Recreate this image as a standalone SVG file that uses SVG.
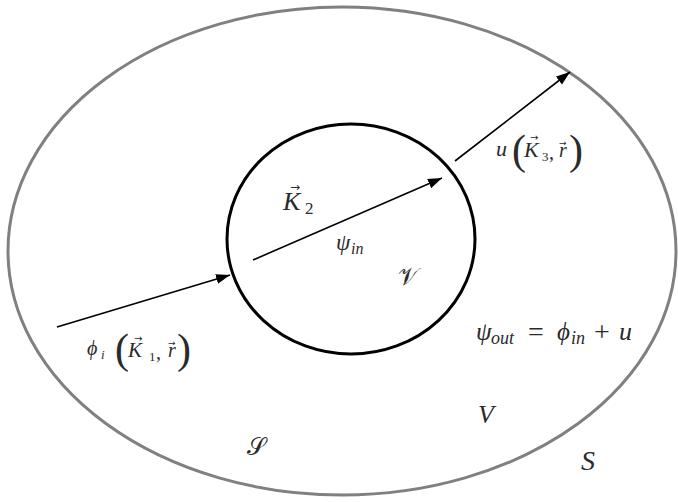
<svg xmlns="http://www.w3.org/2000/svg" width="678" height="502" viewBox="0 0 678 502">
<defs>
<marker id="ah" markerUnits="userSpaceOnUse" markerWidth="16" markerHeight="12" refX="14" refY="5" orient="auto">
<path d="M0,0 L14,5 L0,10 z" fill="#000"/>
</marker>
<style>
text{font-family:"Liberation Serif","DejaVu Serif",serif;fill:#2a2a2a}
.i{font-style:italic}
.p{font-style:normal}
.v{font-style:normal;font-family:"DejaVu Sans",sans-serif}
.c{stroke:#000;stroke-width:1.6;fill:none;marker-end:url(#ah)}
</style>
</defs>
<g id="outer-region">
<ellipse cx="342" cy="251" rx="334" ry="244" fill="none" stroke="#808080" stroke-width="3"/>
</g>
<g id="scatterer">
<ellipse cx="351" cy="239" rx="124" ry="115" fill="none" stroke="#000" stroke-width="3"/>
</g>
<g id="connectors">
<line class="c" x1="57" y1="327" x2="230" y2="275"/>
<line class="c" x1="253" y1="260" x2="442" y2="178"/>
<line class="c" x1="455" y1="161" x2="570" y2="72"/>
</g>
<g id="label-incident">
<text class="i" x="87" y="355" font-size="20">ϕ</text>
<text class="i" x="101" y="359" font-size="13">i</text>
<text class="p" x="115" y="363" font-size="42">(</text>
<text class="i" x="128" y="357" font-size="21">K</text>
<text class="v" x="134" y="342" font-size="10">→</text>
<text class="p" x="149" y="361" font-size="13">1</text>
<text class="p" x="156" y="359" font-size="20">,</text>
<text class="i" x="168" y="357" font-size="20">r</text>
<text class="v" x="168" y="346" font-size="9">→</text>
<text class="p" x="177" y="363" font-size="42">)</text>
</g>
<g id="label-scattered">
<text class="i" x="496" y="156" font-size="22">u</text>
<text class="p" x="512" y="164" font-size="42">(</text>
<text class="i" x="524" y="157" font-size="22">K</text>
<text class="v" x="530" y="141" font-size="10">→</text>
<text class="p" x="542" y="161" font-size="13">3</text>
<text class="p" x="549" y="159" font-size="20">,</text>
<text class="i" x="559" y="157" font-size="20">r</text>
<text class="v" x="559" y="146" font-size="9">→</text>
<text class="p" x="569" y="164" font-size="42">)</text>
</g>
<g id="label-k2">
<text class="i" x="283" y="210" font-size="26">K</text>
<text class="v" x="290" y="191" font-size="12">→</text>
<text class="p" x="305" y="214" font-size="17">2</text>
</g>
<g id="label-psi-in">
<text class="i" x="336" y="250" font-size="23">ψ</text>
<text class="i" x="351" y="254" font-size="16">in</text>
</g>
<g id="label-script-v">
<text x="398" y="285" font-size="24">𝒱</text>
</g>
<g id="label-psi-out">
<text class="i" x="476" y="340" font-size="25">ψ</text>
<text class="i" x="491" y="344" font-size="18">out</text>
<text class="p" x="528" y="341" font-size="28">=</text>
<text class="i" x="557" y="340" font-size="25">ϕ</text>
<text class="i" x="571" y="344" font-size="18">in</text>
<text class="p" x="594" y="341" font-size="28">+</text>
<text class="i" x="619" y="340" font-size="26">u</text>
</g>
<g id="label-V">
<text class="i" x="478" y="423" font-size="26">V</text>
</g>
<g id="label-script-s">
<text x="247" y="455" font-size="24">𝒮</text>
</g>
<g id="label-S">
<text class="i" x="581" y="470" font-size="28">S</text>
</g>
</svg>
